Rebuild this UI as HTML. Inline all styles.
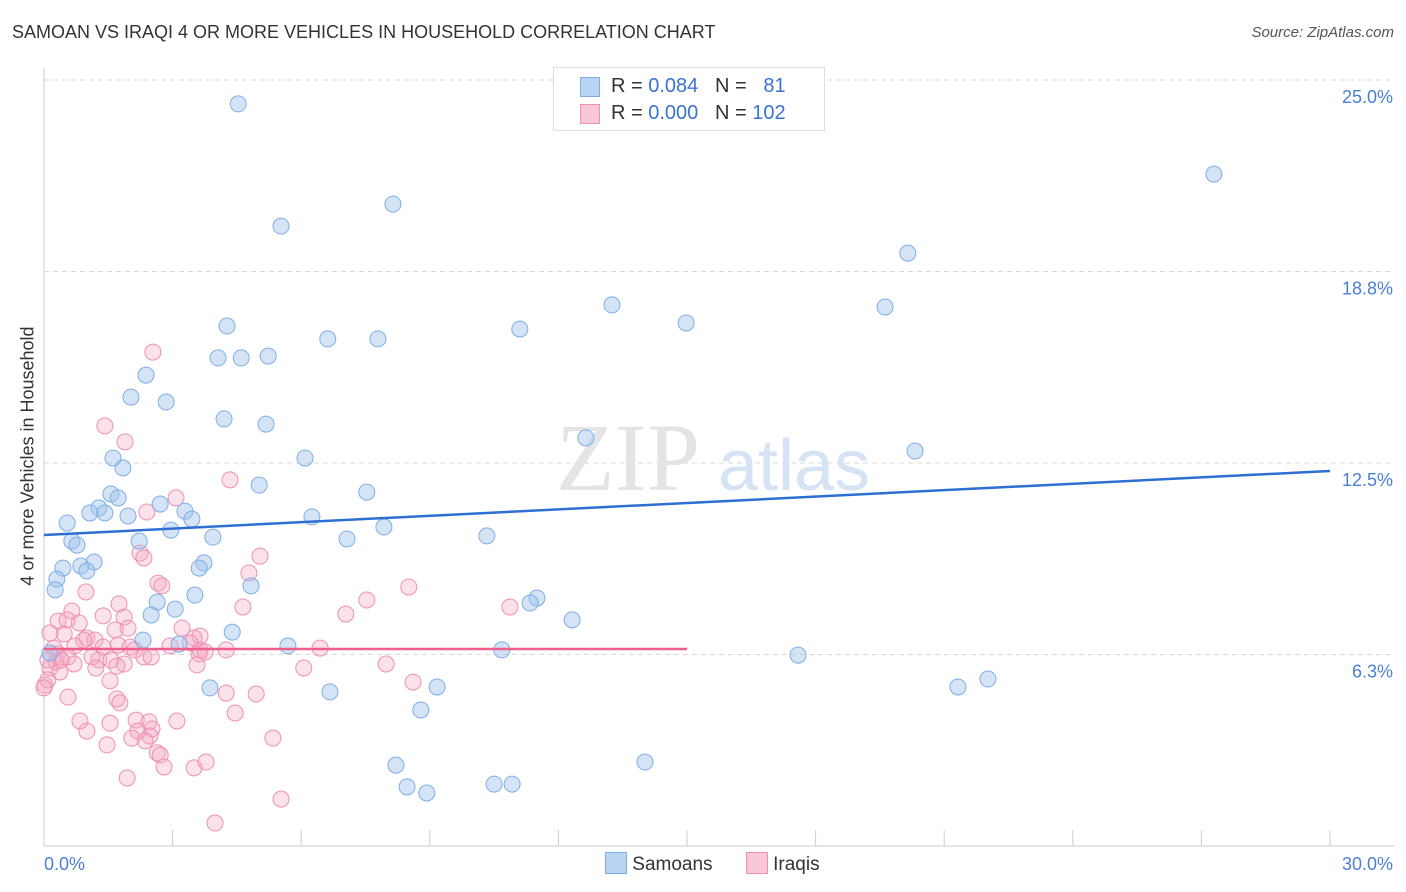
<!DOCTYPE html>
<html><head><meta charset="utf-8">
<style>
body{margin:0;background:#fff;font-family:"Liberation Sans",sans-serif;}
#wrap{position:relative;width:1406px;height:892px;overflow:hidden;}
.t{position:absolute;white-space:nowrap;}
</style></head><body>
<div id="wrap">
<div class="t" style="left:12px;top:22px;font-size:18px;color:#333;">SAMOAN VS IRAQI 4 OR MORE VEHICLES IN HOUSEHOLD CORRELATION CHART</div>
<div class="t" style="right:12px;top:24px;font-size:15px;color:#555;font-style:italic;">Source: ZipAtlas.com</div>
<div class="t" style="left:28px;top:456px;font-size:18px;color:#333;transform:translate(-50%,-50%) rotate(-90deg);">4 or more Vehicles in Household</div>
<svg id="svg" width="1406" height="892" style="position:absolute;left:0;top:0"></svg>
</div>
<script>
const blueX=[4.53,5.53,8.14,27.29,20.15,4.27,4.06,4.60,5.23,6.62,7.79,11.10,13.25,14.98,19.62,2.38,2.03,2.85,4.20,5.18,1.61,1.84,6.09,12.64,20.32,5.02,7.53,1.56,1.73,1.28,2.71,1.07,1.42,1.96,3.29,3.45,6.25,0.54,2.96,7.93,0.65,0.77,2.22,3.94,7.07,10.33,1.17,0.86,1.00,3.73,0.44,3.62,0.30,0.26,4.83,3.52,11.50,11.34,2.64,3.06,2.50,12.32,4.39,2.31,3.15,5.69,10.68,17.59,0.14,3.87,6.67,9.17,21.32,22.02,8.79,8.21,14.02,8.47,8.93,10.50,10.92];
const blueY=[24.22,20.23,20.95,21.93,19.35,16.97,15.93,15.93,15.99,16.55,16.55,16.87,17.66,17.07,17.59,15.37,14.65,14.49,13.94,13.77,12.66,12.34,12.66,13.32,12.89,11.78,11.55,11.49,11.36,11.03,11.16,10.87,10.87,10.77,10.93,10.67,10.74,10.54,10.31,10.41,9.95,9.82,9.95,10.08,10.02,10.12,9.27,9.14,8.98,9.24,9.07,9.07,8.71,8.36,8.49,8.19,8.09,7.93,7.96,7.73,7.54,7.38,6.98,6.72,6.59,6.53,6.40,6.23,6.30,5.16,5.03,5.19,5.19,5.45,4.44,2.64,2.74,1.93,1.73,2.02,2.02];
const pinkX=[2.54,1.42,1.89,4.34,3.08,2.40,2.24,2.33,5.04,4.78,2.66,2.75,8.51,7.53,0.98,1.75,4.64,10.87,7.04,0.65,1.38,1.87,0.33,0.54,0.82,1.96,1.66,3.22,3.64,3.50,1.00,1.19,0.47,0.14,0.72,1.38,1.73,2.01,3.41,4.25,6.44,0.33,0.56,1.28,1.56,1.87,2.33,2.50,3.62,1.70,0.70,0.28,0.14,0.02,0.09,7.98,6.06,3.57,8.61,1.54,4.25,4.95,0.56,1.70,1.77,4.46,0.84,1.54,2.15,2.45,3.10,1.00,2.52,2.19,5.34,2.05,1.47,2.64,2.71,2.80,3.50,3.78,1.94,5.53,3.99,2.47,2.36,0.40,0.23,0.09,1.12,0.93,2.94,2.12,3.64,1.21,0.37,0.00,3.76];
const pinkY=[16.12,13.71,13.19,11.95,11.36,10.90,9.56,9.40,9.46,8.91,8.58,8.49,8.45,8.03,8.29,7.90,7.80,7.80,7.57,7.67,7.51,7.47,7.34,7.38,7.28,7.11,7.05,7.11,6.85,6.79,6.79,6.72,6.92,6.95,6.53,6.49,6.56,6.49,6.63,6.40,6.46,6.27,6.17,6.07,6.07,5.94,6.17,6.17,6.27,5.87,5.94,6.01,5.81,5.25,5.42,5.94,5.81,5.91,5.35,5.39,4.99,4.96,4.86,4.80,4.67,4.34,4.08,4.01,4.11,4.05,4.08,3.75,3.82,3.75,3.52,3.52,3.30,3.04,2.97,2.58,2.55,2.74,2.22,1.53,0.75,3.59,3.43,6.07,6.46,6.07,6.17,6.72,6.53,6.40,6.40,5.81,5.68,5.16,6.33];
const blueTrendX=[0,30], blueTrendY=[10.15,12.24];
const pinkTrendX=[0,15], pinkTrendY=[6.43,6.43];
const yTicks=[25,18.75,12.5,6.25], yTickLabels=["25.0%","18.8%","12.5%","6.3%"];
const xTicks=[0,3,6,9,12,15,18,21,24,27,30];

const NS="http://www.w3.org/2000/svg";
const svg=document.getElementById('svg');
const X0=44,X1=1330,Y0=846,PY=30.64;
const sx=v=>X0+v*(X1-X0)/30;
const sy=v=>Y0-v*PY;
function mk(tag,a){const e=document.createElementNS(NS,tag);for(const k in a)e.setAttribute(k,a[k]);svg.appendChild(e);return e;}

yTicks.forEach((t,i)=>{
 const l=mk('line',{x1:X0,x2:1394,y1:sy(t),y2:sy(t),stroke:'#d8d8d8','stroke-dasharray':'5,4','stroke-width':1});
 
 
 const tx=mk('text',{x:1393,y:sy(t)+23,'text-anchor':'end','font-size':18,fill:'#4a7fd4','font-family':'Liberation Sans, sans-serif'});
 tx.textContent=yTickLabels[i];
 
 
});
let ax=mk('line',{x1:X0,x2:X0,y1:68,y2:846,stroke:'#ccc'});


ax=mk('line',{x1:X0,x2:1394,y1:846,y2:846,stroke:'#ccc'});


xTicks.forEach(t=>{
 const l=mk('line',{x1:sx(t),x2:sx(t),y1:830,y2:846,stroke:'#ccc'});
 
 
});
let xl=mk('text',{x:44,y:870,'font-size':18,fill:'#4a7fd4','font-family':'Liberation Sans, sans-serif'});xl.textContent='0.0%';


xl=mk('text',{x:1393,y:870,'text-anchor':'end','font-size':18,fill:'#4a7fd4','font-family':'Liberation Sans, sans-serif'});xl.textContent='30.0%';



// watermark
let wm=mk('text',{x:556,y:490,'font-size':96,fill:'#e4e4e4','font-family':'Liberation Serif, serif'});wm.textContent='ZIP';


wm=mk('text',{x:718,y:490,'font-size':72,fill:'#d6e3f4','font-family':'Liberation Sans, sans-serif'});wm.textContent='atlas';



pinkX.forEach((v,i)=>{
 const c=mk('circle',{cx:sx(v),cy:sy(pinkY[i]),r:8,fill:'rgba(244,170,196,0.35)',stroke:'#f08fb2','stroke-width':1});
 
 
});
blueX.forEach((v,i)=>{
 const c=mk('circle',{cx:sx(v),cy:sy(blueY[i]),r:8,fill:'rgba(160,196,236,0.45)',stroke:'#7eaee6','stroke-width':1});
 
 
});
let tl=mk('line',{x1:sx(blueTrendX[0]),y1:sy(blueTrendY[0]),x2:sx(blueTrendX[1]),y2:sy(blueTrendY[1]),stroke:'#2d6fd2','stroke-width':2.5});


tl=mk('line',{x1:sx(pinkTrendX[0]),y1:sy(pinkTrendY[0]),x2:sx(pinkTrendX[1]),y2:sy(pinkTrendY[1]),stroke:'#ec5f8c','stroke-width':2.5});


</script>
<div class="t" style="left:553px;top:67px;width:270px;height:62px;border:1px solid #ddd;background:#fff;">
 <div style="position:absolute;left:26px;top:9px;width:18px;height:18px;background:#b9d3f3;border:1px solid #7eaee6;"></div>
 <div class="t" style="left:57px;top:7px;font-size:20px;color:#333;">R = <span style="color:#3a73d1">0.084</span>&nbsp;&nbsp;&nbsp;N = &nbsp;&nbsp;<span style="color:#3a73d1">81</span></div>
 <div style="position:absolute;left:26px;top:36px;width:18px;height:18px;background:#f9c8d8;border:1px solid #f08fb2;"></div>
 <div class="t" style="left:57px;top:34px;font-size:20px;color:#333;">R = <span style="color:#3a73d1">0.000</span>&nbsp;&nbsp;&nbsp;N = <span style="color:#3a73d1">102</span></div>
</div>
<div class="t" style="left:605px;top:852px;font-size:19px;color:#333;">
 <span style="display:inline-block;width:20px;height:20px;background:#b9d3f3;border:1px solid #7eaee6;vertical-align:-4px;"></span> Samoans
 <span style="display:inline-block;width:20px;height:20px;background:#f9c8d8;border:1px solid #f08fb2;vertical-align:-4px;margin-left:28px;"></span> Iraqis
</div>
</body></html>
